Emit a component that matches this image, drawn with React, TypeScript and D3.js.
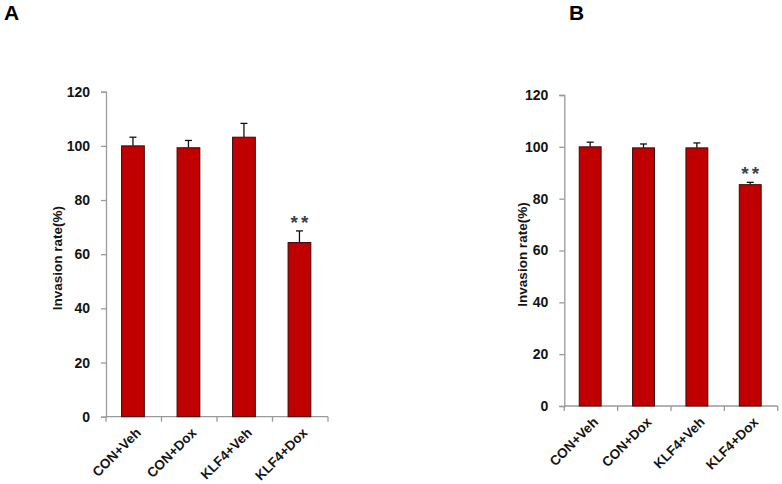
import React, { useRef, useEffect } from "react";
import * as d3 from "d3";

const categories = ["CON+Veh", "CON+Dox", "KLF4+Veh", "KLF4+Dox"];
const yTicks = [0, 20, 40, 60, 80, 100, 120];

const valuesA = [100, 99.3, 103.2, 64.3];
const errorsA = [3.2, 2.7, 5.1, 4.3];
const starsA = ["", "", "", "**"];

const valuesB = [100, 99.6, 99.6, 85.4];
const errorsB = [1.8, 1.5, 1.9, 0.9];
const starsB = ["", "", "", "**"];

const panels = [
  { letter: "A", lx: 4, values: valuesA, errors: errorsA, stars: starsA, x0: 106, x1: 328, y0: 416.7, yTop: 91.7, labelX: 62 },
  { letter: "B", lx: 569, values: valuesB, errors: errorsB, stars: starsB, x0: 564.3, x1: 777.7, y0: 406, yTop: 95, labelX: 527 },
];

const App = () => {
  const ref = useRef<SVGSVGElement>(null);

  useEffect(() => {
    const svg = d3.select(ref.current);
    svg.selectAll("*").remove();

    const font = "'Liberation Sans', Arial, sans-serif";
    const textColor = "#141414";

    panels.forEach((p) => {
      const g = svg.append("g");

      g.append("text")
        .attr("x", p.lx)
        .attr("y", 20)
        .text(p.letter)
        .style("font-family", font)
        .style("font-weight", 700)
        .style("font-size", "21px")
        .style("fill", "#000");

      const y = d3.scaleLinear().domain([0, 120]).range([p.y0, p.yTop]);
      const x = d3.scaleBand().domain(categories).range([p.x0, p.x1]).padding(0);
      const bw = x.bandwidth() * 0.41;

      // y axis
      const yAxis = g
        .append("g")
        .attr("transform", `translate(${p.x0},0)`)
        .call(d3.axisLeft(y).tickValues(yTicks).tickSize(5).tickPadding(11));
      yAxis.select(".domain").attr("stroke", "#9a9a9a").attr("stroke-width", 1.3);
      yAxis.selectAll(".tick line").attr("stroke", "#9a9a9a").attr("stroke-width", 1.3);
      yAxis
        .selectAll(".tick text")
        .style("font-family", font)
        .style("font-weight", 700)
        .style("font-size", "14px")
        .style("fill", textColor);

      // y label
      g.append("text")
        .attr("transform", `translate(${p.labelX},${(p.y0 + p.yTop) / 2 + 4}) rotate(-90)`)
        .attr("text-anchor", "middle")
        .text("Invasion rate(%)")
        .style("font-family", font)
        .style("font-weight", 700)
        .style("font-size", "13.5px")
        .style("fill", textColor);

      // x axis
      g.append("line")
        .attr("x1", p.x0)
        .attr("x2", p.x1)
        .attr("y1", p.y0)
        .attr("y2", p.y0)
        .attr("stroke", "#9a9a9a")
        .attr("stroke-width", 1.3);
      const bounds = categories.map((c) => x(c) as number).concat([p.x1]);
      g.selectAll(".xtick")
        .data(bounds)
        .join("line")
        .attr("x1", (d) => d)
        .attr("x2", (d) => d)
        .attr("y1", p.y0)
        .attr("y2", p.y0 + 5)
        .attr("stroke", "#9a9a9a")
        .attr("stroke-width", 1.3);

      g.selectAll(".xlabel")
        .data(categories)
        .join("text")
        .attr("text-anchor", "end")
        .attr(
          "transform",
          (d) => `translate(${(x(d) as number) + x.bandwidth() / 2 + 8},${p.y0 + 17}) rotate(-45)`
        )
        .text((d) => d)
        .style("font-family", font)
        .style("font-weight", 700)
        .style("font-size", "13.5px")
        .style("fill", textColor);

      const data = categories.map((c, i) => ({ c, v: p.values[i], e: p.errors[i], s: p.stars[i] }));
      const cx = (c: string) => (x(c) as number) + x.bandwidth() / 2 - 0.8;

      // error bars
      g.selectAll(".err")
        .data(data)
        .join("line")
        .attr("x1", (d) => cx(d.c))
        .attr("x2", (d) => cx(d.c))
        .attr("y1", (d) => y(d.v))
        .attr("y2", (d) => y(d.v + d.e))
        .attr("stroke", "#111")
        .attr("stroke-width", 1.3);
      g.selectAll(".cap")
        .data(data)
        .join("line")
        .attr("x1", (d) => cx(d.c) - 3.5)
        .attr("x2", (d) => cx(d.c) + 3.5)
        .attr("y1", (d) => y(d.v + d.e))
        .attr("y2", (d) => y(d.v + d.e))
        .attr("stroke", "#111")
        .attr("stroke-width", 1.3);

      // bars
      g.selectAll(".bar")
        .data(data)
        .join("rect")
        .attr("x", (d) => cx(d.c) - bw / 2)
        .attr("y", (d) => y(d.v))
        .attr("width", bw)
        .attr("height", (d) => y(0) - y(d.v))
        .attr("fill", "#c00000")
        .attr("stroke", "#3a0a0a")
        .attr("stroke-width", 1);

      // significance
      g.selectAll(".star")
        .data(data.filter((d) => d.s))
        .join("text")
        .attr("x", (d) => cx(d.c) + 1.5)
        .attr("y", (d) => y(d.v + d.e) - 2)
        .attr("text-anchor", "middle")
        .text((d) => d.s)
        .style("font-family", font)
        .style("font-weight", 700)
        .style("font-size", "19px")
        .style("letter-spacing", "3px")
        .style("fill", "#3a4150");
    });
  }, []);

  return (
    <svg
      ref={ref}
      width={782}
      height={484}
      style={{ position: "absolute", left: 0, top: 0, background: "#fff" }}
    />
  );
};

export default App;
